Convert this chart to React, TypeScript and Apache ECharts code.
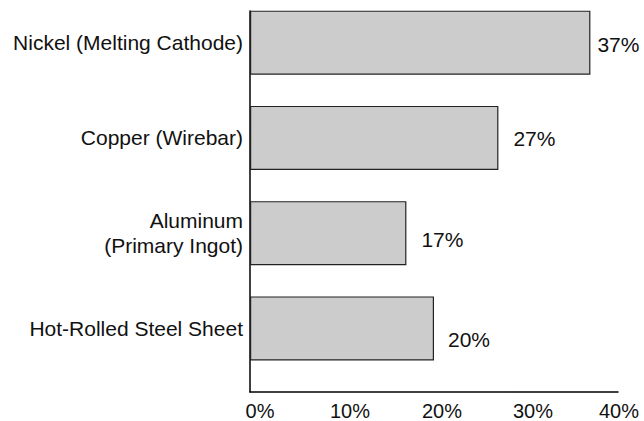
import React, { useEffect, useRef } from "react";
import * as echarts from "echarts";

const categories = [
  "Nickel (Melting Cathode)",
  "Copper (Wirebar)",
  "Aluminum\n(Primary Ingot)",
  "Hot-Rolled Steel Sheet",
];
const values = [37, 27, 17, 20];
const xTicks = [0, 10, 20, 30, 40];

// label styling per bar (vertical nudge and gap), not data
const labelNudge = [2, 1, 6, 11];
const labelGap = [7, 15, 15, 14];
const tickPad: Record<number, number> = { 0: 20, 10: 16, 20: 16, 30: 14, 40: 2 };

const FONT = "'Liberation Sans', Arial, Helvetica, sans-serif";

export default function App() {
  const ref = useRef<HTMLDivElement>(null);
  useEffect(() => {
    document.body.style.margin = "0";
    const chart = echarts.init(ref.current!, undefined, { renderer: "svg" });
    const rich: Record<string, any> = {};
    xTicks.forEach((t) => {
      rich["t" + t] = {
        padding: [0, 0, 0, tickPad[t] ?? 0],
        fontSize: 20,
        fontFamily: FONT,
        color: "#111",
      };
    });
    chart.setOption({
      animation: false,
      textStyle: { fontFamily: FONT },
      grid: { left: 250, right: 26, top: 11, bottom: 26, containLabel: false },
      xAxis: {
        type: "value",
        min: 0,
        max: 40,
        interval: 10,
        splitLine: { show: false },
        axisTick: { show: false },
        axisLine: { show: true, lineStyle: { color: "#000", width: 1.5 } },
        axisLabel: {
          margin: 9,
          fontSize: 20,
          color: "#111",
          fontFamily: FONT,
          formatter: (v: number) => `{t${v}|${v}%}`,
          rich,
        },
      },
      yAxis: {
        type: "category",
        inverse: true,
        data: categories,
        axisTick: { show: false },
        axisLine: { show: true, lineStyle: { color: "#000", width: 1.5 } },
        axisLabel: {
          margin: 7,
          color: "#111",
          fontFamily: FONT,
          align: "right",
          verticalAlign: "middle",
          formatter: (v: string) =>
            v
              .split("\n")
              .map((l) => `{c|${l}}`)
              .join("\n") + "\n{sp| }",
          rich: {
            c: { fontSize: 21, lineHeight: 25, color: "#111", fontFamily: FONT, align: "right" },
            sp: { fontSize: 10, lineHeight: 32, align: "right" },
          },
        },
      },
      series: [
        {
          type: "bar",
          barWidth: 64,
          barGap: "0%",
          data: values.map((v, i) => ({
            value: v,
            label: { distance: labelGap[i], offset: [0, labelNudge[i]] },
          })),
          itemStyle: { color: "#cccccc", borderColor: "#222", borderWidth: 1.2 },
          label: {
            show: true,
            position: "right",
            formatter: "{c}%",
            fontSize: 21,
            color: "#111",
            fontFamily: FONT,
          },
        },
        {
          type: "bar",
          barWidth: 32,
          barGap: "0%",
          data: values.map(() => null),
          silent: true,
        },
      ],
    });
    return () => chart.dispose();
  }, []);
  return (
    <div
      ref={ref}
      style={{ position: "absolute", left: 0, top: 0, width: 644, height: 421 }}
    />
  );
}
